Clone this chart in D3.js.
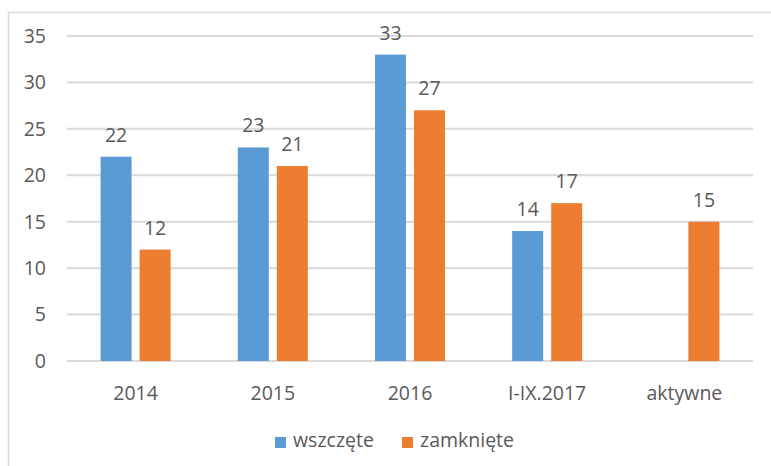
<!DOCTYPE html>
<html>
<head>
<meta charset="utf-8">
<script src="https://cdn.jsdelivr.net/npm/d3@7"></script>
<style>
  body { margin: 0; background: #fff; }
  svg text { font-family: "Open Sans", "Noto Sans", sans-serif; fill: #595959; }
</style>
</head>
<body>
<svg width="771" height="466"></svg>
<script>
var categories = ["2014", "2015", "2016", "I-IX.2017", "aktywne"];
var wszczete = [22, 23, 33, 14, null];
var zamkniete = [12, 21, 27, 17, 15];
var seriesNames = ["wszczęte", "zamknięte"];
var colors = ["#5b9bd5", "#ed7d31"];
var yTicks = [0, 5, 10, 15, 20, 25, 30, 35];

var svg = d3.select("svg"),
  width = +svg.attr("width"),
  height = +svg.attr("height");

// chart frame (right and bottom edges fall outside the picture)
svg.append("rect")
  .attr("x", 8.5).attr("y", 12.5)
  .attr("width", 780).attr("height", 480)
  .attr("fill", "none")
  .attr("stroke", "#d9d9d9")
  .attr("stroke-width", 1.5);

var x0 = d3.scaleBand()
  .domain(categories)
  .range([67, 753]);

var x1 = d3.scaleBand()
  .domain([0, 1])
  .range([x0.bandwidth() / 2 - 35, x0.bandwidth() / 2 + 35])
  .paddingInner(0.205);

var y = d3.scaleLinear()
  .domain([0, 35])
  .range([361, 36]);

// gridlines
svg.append("g")
  .selectAll("line")
  .data(yTicks)
  .enter().append("line")
  .attr("x1", 67).attr("x2", 753)
  .attr("y1", function(d) { return y(d); })
  .attr("y2", function(d) { return y(d); })
  .attr("stroke", "#d9d9d9")
  .attr("stroke-width", 2);

// y labels
svg.append("g")
  .selectAll("text")
  .data(yTicks)
  .enter().append("text")
  .attr("x", 46)
  .attr("y", function(d) { return y(d); })
  .attr("dy", "0.35em")
  .attr("text-anchor", "end")
  .style("font-size", "19.5px")
  .text(function(d) { return d; });

// bars
var rows = categories.map(function(c, i) {
  return { cat: c, values: [wszczete[i], zamkniete[i]] };
});

var group = svg.append("g")
  .selectAll("g")
  .data(rows)
  .enter().append("g")
  .attr("transform", function(d) { return "translate(" + x0(d.cat) + ",0)"; });

var cells = group.selectAll("g")
  .data(function(d) {
    return d.values.map(function(v, k) { return { k: k, v: v }; })
      .filter(function(e) { return e.v != null; });
  })
  .enter().append("g");

cells.append("rect")
  .attr("x", function(d) { return x1(d.k); })
  .attr("width", x1.bandwidth())
  .attr("y", function(d) { return y(d.v); })
  .attr("height", function(d) { return y(0) - y(d.v); })
  .attr("fill", function(d) { return colors[d.k]; });

cells.append("text")
  .attr("x", function(d) { return x1(d.k) + x1.bandwidth() / 2; })
  .attr("y", function(d) { return y(d.v) - 15; })
  .attr("text-anchor", "middle")
  .style("font-size", "19.5px")
  .text(function(d) { return d.v; });

// x labels
svg.append("g")
  .selectAll("text")
  .data(categories)
  .enter().append("text")
  .attr("x", function(d) { return x0(d) + x0.bandwidth() / 2; })
  .attr("y", 400)
  .attr("text-anchor", "middle")
  .style("font-size", "19.5px")
  .text(function(d) { return d; });

// legend
var legendX = [275, 402];
var legend = svg.append("g")
  .selectAll("g")
  .data(seriesNames)
  .enter().append("g")
  .attr("transform", function(d, i) { return "translate(" + legendX[i] + ",0)"; });

legend.append("rect")
  .attr("x", 0).attr("y", 437)
  .attr("width", 11).attr("height", 11)
  .attr("fill", function(d, i) { return colors[i]; });

legend.append("text")
  .attr("x", 18).attr("y", 447)
  .style("font-size", "19.5px")
  .text(function(d) { return d; });
</script>
</body>
</html>
